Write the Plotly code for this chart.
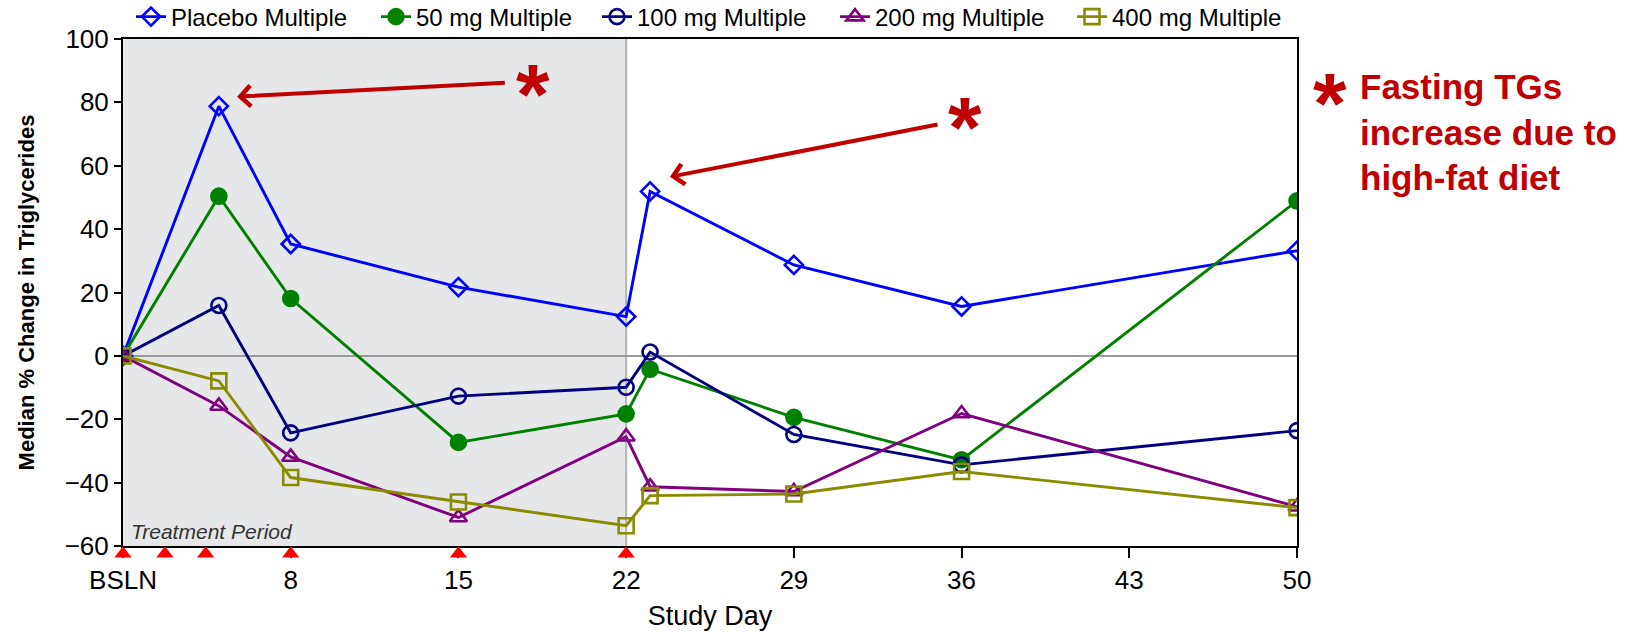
import plotly.graph_objects as go

# ---------------- data ----------------
days = [1, 5, 8, 15, 22, 23, 29, 36, 50]
placebo = [0, 78.8, 35.3, 21.7, 12.4, 51.9, 28.7, 15.6, 33.2]
mg50 = [0, 50.4, 18.1, -27.3, -18.3, -4.2, -19.4, -32.8, 48.9]
mg100 = [0, 15.9, -24.3, -12.7, -9.9, 1.2, -24.8, -34.4, -23.6]
mg200 = [0, -15.8, -31.9, -51.0, -25.5, -41.3, -42.8, -18.2, -47.6]
mg400 = [0, -7.9, -38.4, -46.1, -53.6, -44.1, -43.6, -36.5, -47.9]
dose_days = [1, 2.75, 4.45, 8, 15, 22]
tick_days = [1, 8, 15, 22, 29, 36, 43, 50]
tick_text = ["BSLN", "8", "15", "22", "29", "36", "43", "50"]
y_ticks = [-60, -40, -20, 0, 20, 40, 60, 80, 100]
series_names = ["Placebo Multiple", "50 mg Multiple", "100 mg Multiple",
                "200 mg Multiple", "400 mg Multiple"]

# ---------------- layout geometry ----------------
W, H = 1649, 632
L, R, T, B = 123, 1297, 39, 546      # main plotting box (pixels)
STRIP = 14                           # strip below axis for dosing triangles
BOT = B + STRIP
FONT = "Liberation Sans, Arial, Helvetica, sans-serif"
RED = "#C00000"
legend_x_px = [131, 376, 597, 835, 1072]


def px_x(p):
    return (p - L) / (R - L)


def px_y(p):
    return (BOT - p) / (BOT - T)


styles = [
    dict(color="#0000FF", symbol="diamond-open", size=14),
    dict(color="#008000", symbol="circle", size=15),
    dict(color="#000080", symbol="circle-open", size=15),
    dict(color="#800080", symbol="triangle-up-open", size=15),
    dict(color="#8B8B00", symbol="square-open", size=15),
]
values = [placebo, mg50, mg100, mg200, mg400]
legend_ids = ["legend", "legend2", "legend3", "legend4", "legend5"]

fig = go.Figure()
for name, vals, st, lg in zip(series_names, values, styles, legend_ids):
    fig.add_trace(go.Scatter(
        x=days, y=vals, name=name, mode="lines+markers", legend=lg,
        line=dict(color=st["color"], width=2.9),
        marker=dict(color=st["color"], symbol=st["symbol"], size=st["size"],
                    line=dict(color=st["color"], width=2.6)),
    ))

# dosing triangles in a thin strip just below the x axis
fig.add_trace(go.Scatter(
    x=dose_days, y=[0.45] * len(dose_days), xaxis="x2", yaxis="y2",
    mode="markers", showlegend=False, cliponaxis=False, hoverinfo="skip",
    marker=dict(symbol="triangle-up", size=15, color="#FF0000"),
))

split = STRIP / (BOT - T)
legends = {}
for lg, lx in zip(legend_ids, legend_x_px):
    legends[lg] = dict(
        orientation="h", x=px_x(lx), xanchor="left", y=px_y(17), yanchor="middle",
        font=dict(size=24, family=FONT), bgcolor="rgba(0,0,0,0)", itemwidth=30,
    )

fig.update_layout(
    width=W, height=H,
    margin=dict(l=L, r=W - R, t=T, b=H - BOT, pad=0, autoexpand=False),
    paper_bgcolor="white", plot_bgcolor="white",
    font=dict(family=FONT, color="black"),
    xaxis=dict(
        range=[1, 50], tickmode="array", tickvals=tick_days, ticktext=tick_text,
        ticks="outside", ticklen=10, tickwidth=2, tickcolor="black",
        tickfont=dict(size=26, family=FONT),
        showline=True, linecolor="black", linewidth=2, mirror=True,
        showgrid=False, zeroline=False, anchor="y",
        title=dict(text="Study Day", font=dict(size=27, family=FONT), standoff=12),
    ),
    yaxis=dict(
        domain=[split, 1], range=[-60, 100], tickvals=y_ticks,
        ticks="outside", ticklen=7, tickwidth=2, tickcolor="black",
        tickfont=dict(size=26, family=FONT),
        showline=True, linecolor="black", linewidth=2, mirror=True,
        showgrid=False, zeroline=True, zerolinecolor="#9A9A9A", zerolinewidth=2,
        title=dict(text="Median % Change in Triglycerides",
                   font=dict(size=22, family=FONT, weight="bold"), standoff=24),
    ),
    xaxis2=dict(range=[1, 50], matches="x", anchor="y2", visible=False),
    yaxis2=dict(domain=[0, split], range=[0, 1], anchor="x2", visible=False,
                fixedrange=True),
    showlegend=True,
    **legends,
)

# treatment period shading and day-22 divider
fig.add_shape(type="rect", xref="x", yref="y domain", x0=1, x1=22, y0=0, y1=1,
              fillcolor="#E6E7E9", line=dict(width=0), layer="below")
fig.add_shape(type="line", xref="x", yref="y domain", x0=22, x1=22, y0=0, y1=1,
              line=dict(color="#B4B4B4", width=2), layer="below")

fig.add_annotation(text="<i>Treatment Period</i>", xref="paper", yref="paper",
                   x=px_x(129), y=px_y(531), xanchor="left", yanchor="middle",
                   showarrow=False, font=dict(size=21, family=FONT, color="#333333"))

# arrows
fig.add_annotation(x=5.76, y=81.8, ax=17.0, ay=86.2, xref="x", yref="y",
                   axref="x", ayref="y", text="", showarrow=True,
                   arrowhead=4, arrowsize=1, arrowwidth=4, arrowcolor=RED)
fig.add_annotation(x=23.83, y=56.5, ax=35.06, ay=73.1, xref="x", yref="y",
                   axref="x", ayref="y", text="", showarrow=True,
                   arrowhead=4, arrowsize=1, arrowwidth=4, arrowcolor=RED)

# asterisks
for cx, cy in [(533, 79), (965, 112), (1330, 88)]:
    fig.add_annotation(text="<b>*</b>", xref="paper", yref="paper",
                       x=px_x(cx), y=px_y(cy), xanchor="center", yanchor="middle",
                       yshift=-15, showarrow=False,
                       font=dict(size=86, family=FONT, color=RED))

fig.add_annotation(text="<b>Fasting TGs<br>increase due to<br>high-fat diet</b>",
                   xref="paper", yref="paper", x=px_x(1358), y=px_y(65),
                   xanchor="left", yanchor="top", align="left", showarrow=False,
                   font=dict(size=35, family=FONT, color=RED))

fig.write_html("out.html", config={"displayModeBar": False},
               post_script="document.body.style.margin='0';"
                           "document.body.style.overflow='hidden';")
